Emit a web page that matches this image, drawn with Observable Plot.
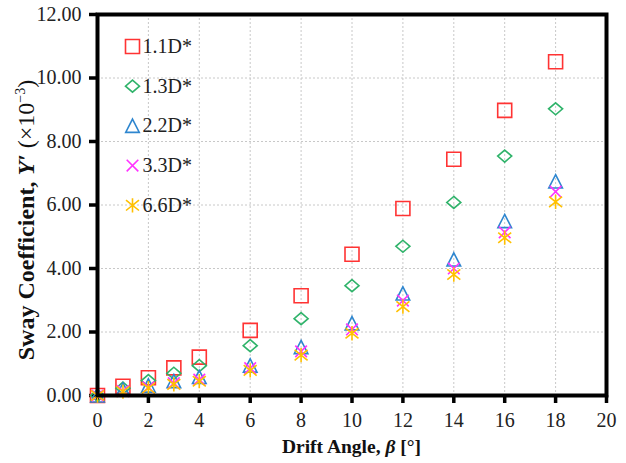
<!DOCTYPE html>
<html>
<head>
<meta charset="utf-8">
<script src="https://cdn.jsdelivr.net/npm/d3@7"></script>
<script src="https://cdn.jsdelivr.net/npm/@observablehq/plot@0.6"></script>
<style>
  html, body { margin: 0; padding: 0; background: #fff; }
</style>
</head>
<body>
<div id="chart"></div>
<script>
// ---- data ----
const angles = [0, 1, 2, 3, 4, 6, 8, 10, 12, 14, 16, 18];
const seriesNames = ["1.1D*", "1.3D*", "2.2D*", "3.3D*", "6.6D*"];
const y11 = [0, 0.29, 0.56, 0.87, 1.21, 2.05, 3.14, 4.45, 5.89, 7.44, 8.98, 10.51];
const y13 = [0, 0.23, 0.47, 0.70, 0.94, 1.57, 2.42, 3.46, 4.70, 6.08, 7.54, 9.03];
const y22 = [0, 0.18, 0.31, 0.45, 0.58, 0.94, 1.52, 2.27, 3.21, 4.28, 5.49, 6.74];
const y33 = [0, 0.14, 0.26, 0.39, 0.50, 0.86, 1.39, 2.08, 2.99, 4.00, 5.14, 6.42];
const y66 = [0, 0.12, 0.23, 0.35, 0.45, 0.79, 1.27, 1.96, 2.80, 3.81, 4.97, 6.10];
const xTicks = [0, 2, 4, 6, 8, 10, 12, 14, 16, 18, 20];
const yTicks = [0, 2, 4, 6, 8, 10, 12];

// ---- styles ----
const colors = ["#ff3333", "#2fb36a", "#2e86cf", "#ff33ff", "#ffc000"];
const rad = (size) => Math.sqrt(size / Math.PI);
const symSquare = {draw(c, s) { const r = rad(s); c.moveTo(-r, -r); c.lineTo(r, -r); c.lineTo(r, r); c.lineTo(-r, r); c.closePath(); }};
const symDiamond = {draw(c, s) { const r = rad(s); c.moveTo(0, -r * 0.86); c.lineTo(r, 0); c.lineTo(0, r * 0.86); c.lineTo(-r, 0); c.closePath(); }};
const symTriangle = {draw(c, s) { const r = rad(s); c.moveTo(0, -r); c.lineTo(r, r * 0.95); c.lineTo(-r, r * 0.95); c.closePath(); }};
const symTimes = {draw(c, s) { const r = rad(s); c.moveTo(-r, -r); c.lineTo(r, r); c.moveTo(r, -r); c.lineTo(-r, r); }};
const symAsterisk = {draw(c, s) { const r = rad(s); c.moveTo(-r, -r * 0.8); c.lineTo(r, r * 0.8); c.moveTo(r, -r * 0.8); c.lineTo(-r, r * 0.8); c.moveTo(0, -r * 1.1); c.lineTo(0, r * 1.1); }};
const symbols = [symSquare, symDiamond, symTriangle, symTimes, symAsterisk];
const radii = [7, 7, 6.8, 5.8, 6.5];
const seriesVals = [y11, y13, y22, y33, y66];

const rows = [];
seriesNames.forEach((name, si) => {
  angles.forEach((a, i) => rows.push({series: name, si, x: a, y: seriesVals[si][i]}));
});

const font = "'Liberation Serif', 'Times New Roman', serif";
const marks = [
  Plot.gridX(xTicks, {stroke: "#c8c8c8", strokeOpacity: 1, strokeDasharray: "2,2"}),
  Plot.gridY(yTicks, {stroke: "#c8c8c8", strokeOpacity: 1, strokeDasharray: "2,2"}),
  Plot.axisX({ticks: xTicks, tickSize: 8, tickPadding: 9, stroke: "black", strokeWidth: 3.5, label: null,
    tickFormat: d3.format("d"), fontSize: 20, fill: "#222"}),
  Plot.axisY({ticks: yTicks, tickSize: 8, tickPadding: 8, stroke: "black", strokeWidth: 3.5, label: null,
    tickFormat: d3.format(".2f"), fontSize: 20, fill: "#222"}),
];
seriesNames.forEach((name, si) => {
  marks.push(Plot.dot(rows.filter(d => d.si === si), {
    x: "x", y: "y", symbol: () => symbols[si], r: radii[si],
    stroke: colors[si], fill: "none", strokeWidth: 1.6
  }));
});
// legend (inside plot, top-left)
seriesNames.forEach((name, si) => {
  marks.push(Plot.dot([name], {frameAnchor: "top-left", dx: 35, dy: 32 + 39.7 * si,
    symbol: () => symbols[si], r: radii[si], stroke: colors[si], fill: "none", strokeWidth: 1.6}));
  marks.push(Plot.text([name], {frameAnchor: "top-left", dx: 45, dy: 32 + 39.7 * si, text: d => d,
    textAnchor: "start", lineAnchor: "middle", fontSize: 20, fill: "#222"}));
});
marks.push(Plot.frame({stroke: "black", strokeWidth: 4}));

const plot = Plot.plot({
  width: 626, height: 463,
  marginLeft: 97, marginRight: 20, marginTop: 14, marginBottom: 68,
  x: {domain: [0, 20]},
  y: {domain: [0, 12]},
  style: {fontFamily: font, fontSize: "20px", color: "#222", background: "#fff"},
  marks
});

const svg = d3.select(plot);
const sx = plot.scale("x");

// axis titles with rich text
const xt = svg.append("text")
  .attr("x", (sx.apply(0) + sx.apply(20)) / 2).attr("y", 453)
  .attr("text-anchor", "middle")
  .attr("font-family", font).attr("font-size", 19.5).attr("font-weight", "bold").attr("fill", "#111");
xt.append("tspan").text("Drift Angle, ");
xt.append("tspan").attr("font-style", "italic").text("β");
xt.append("tspan").text(" [°]");

const yt = svg.append("text")
  .attr("transform", "translate(34,220) rotate(-90)")
  .attr("text-anchor", "middle")
  .attr("font-family", font).attr("font-size", 24).attr("font-weight", "bold").attr("fill", "#111");
yt.append("tspan").text("Sway Coefficient, ");
yt.append("tspan").attr("font-style", "italic").text("Y′");
yt.append("tspan").attr("font-weight", "normal").text(" (×10");
yt.append("tspan").attr("font-weight", "normal").attr("font-size", 14).attr("dy", -9).text("−3");
yt.append("tspan").attr("font-weight", "normal").attr("dy", 9).text(")");

document.getElementById("chart").appendChild(plot);
</script>
</body>
</html>
